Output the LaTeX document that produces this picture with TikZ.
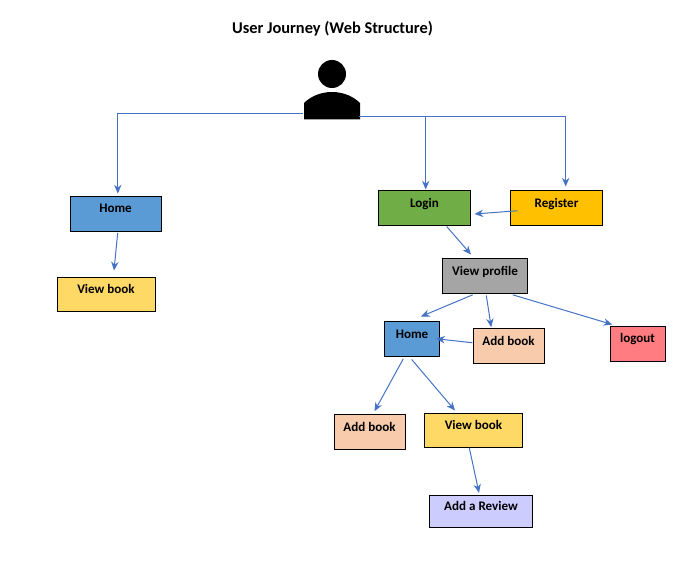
\documentclass[tikz,border=0pt]{standalone}
\usepackage{fontspec}
\setmainfont{Carlito}
\usetikzlibrary{arrows.meta}
\definecolor{linkblue}{HTML}{4472C4}
\definecolor{homeblue}{HTML}{5B9BD5}
\definecolor{logingreen}{HTML}{70AD47}
\definecolor{regyellow}{HTML}{FFC000}
\definecolor{profgrey}{HTML}{A5A5A5}
\definecolor{viewyellow}{HTML}{FFD966}
\definecolor{addpeach}{HTML}{F8CBAD}
\definecolor{outred}{HTML}{FF7C80}
\definecolor{revlilac}{HTML}{CCCCFF}
\tikzset{
  pagebox/.style={draw,line width=0.75pt,inner sep=0pt,font=\fontsize{9.8pt}{11pt}\selectfont\bfseries,text height=6pt,text depth=6.9pt},
  link/.style={linkblue,line width=0.75pt,-{Stealth[length=6.5pt,width=5.5pt]}}
}
\begin{document}
\begin{tikzpicture}[x=0.75pt,y=-0.75pt]
  \useasboundingbox (0,0) rectangle (673,563);
  \node (title) at (332.5,28.5) {\fontsize{12.3pt}{14pt}\selectfont\bfseries User Journey (Web Structure)};
  % user icon
  \fill (332,74) circle (14);
  \fill (304,119.5)--(304,103) .. controls (310,97) and (320,92) .. (332,92) .. controls (344,92) and (354,97) .. (360,103)--(360,119.5)--cycle;
  \coordinate (userL) at (303,113.3);
  \coordinate (userR) at (359,116.3);
  % pages
  \foreach\name/\x/\y/\w/\h/\col/\txt in {
     homeA/115.5/213.5/91/35/homeblue/Home,
     viewA/106/294/98/34/viewyellow/View book,
     login/424.5/207.75/92/34.5/logingreen/Login,
     register/556.5/207.75/92/34.5/regyellow/Register,
     profile/485/276/85/35/profgrey/View profile,
     homeB/412/338.75/55/34.5/homeblue/Home,
     addA/508.5/345.75/71/34.5/addpeach/Add book,
     logout/637.5/343.5/55/35/outred/logout,
     addB/369.5/432/71/35/addpeach/Add book,
     viewB/473.5/430.25/98/33.5/viewyellow/View book,
     review/481/511.25/103/31.5/revlilac/Add a Review} {
     \node[pagebox,fill=\col,minimum width=\w*0.75pt,minimum height=\h*0.75pt] (\name) at (\x,\y) {\txt};
  }
  % from the user
  \draw[link](userL)-|([shift={(2.3,-2)}]homeA.north);
  \draw[link](userR)-|([shift={(1.2,-0.5)}]login.north);
  \draw[link](userR)-|([shift={(9.2,-3.5)}]register.north);
  % between pages
  \foreach\from/\ax/\ay/\to/\bx/\by in {
     homeA.south/2.2/1.3/viewA.north/8/-6,
     register.west/7.5/3/login.east/3.5/6.25,
     login.south/22.2/1/profile.north/-14/-3.5,
     profile.south/-12.3/0.8/homeB.north/9/-4.5,
     profile.south/1.3/1.5/addA.north/-17.3/-0.8,
     profile.south/27.7/0.8/logout.north/-25.3/-1,
     addA.west/-0.2/-3/homeB.east/-3.8/0,
     homeB.south/-8.7/2.3/addB.north/5/-2.8,
     homeB.south/-0.3/3/viewB.north/-18.5/-2.5,
     viewB.south/-4.2/0.3/review.north/-2/-2.2} {
     \draw[link]([shift={(\ax,\ay)}]\from)--([shift={(\bx,\by)}]\to);
  }
\end{tikzpicture}
\end{document}
